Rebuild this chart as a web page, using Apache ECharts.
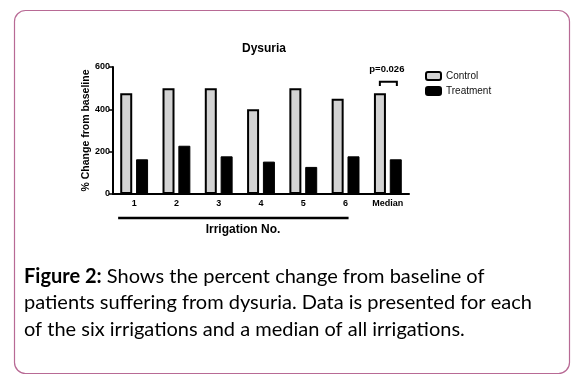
<!DOCTYPE html>
<html><head><meta charset="utf-8">
<script src="https://cdn.jsdelivr.net/npm/echarts@6/dist/echarts.min.js"></script>
<style>html,body{margin:0;padding:0;background:#fff}#c{width:580px;height:384px}</style>
</head><body><div id="c"></div>
<script>
const categories = ['1','2','3','4','5','6','Median'];
const controlValues = [476, 500, 500, 400, 500, 450, 476];
const treatmentValues = [164, 228, 178, 153, 128, 178, 164];
const yTicks = [0, 200, 400, 600];
const seriesNames = ['Control', 'Treatment'];
const pLabel = 'p=0.026';

const chart = echarts.init(document.getElementById('c'), null, {renderer: 'canvas'});
const FF = 'Liberation Sans, Arial';
chart.setOption({
  animation: false,
  backgroundColor: '#fff',
  title: {
    text: 'Dysuria', left: 259, top: 38, textAlign: 'center',
    textStyle: {fontFamily: FF, fontWeight: 'bold', fontSize: 12, color: '#000'}
  },
  legend: {
    orient: 'vertical', left: 420, top: 66, itemWidth: 15, itemHeight: 8, itemGap: 5,
    data: seriesNames,
    textStyle: {fontFamily: FF, fontSize: 10, color: '#111'}
  },
  grid: {left: 113, top: 67, width: 296, height: 127},
  xAxis: {
    type: 'category', data: categories,
    axisLine: {lineStyle: {color: '#000', width: 2}},
    axisTick: {alignWithLabel: true, length: 3, lineStyle: {color: '#000', width: 1.5}},
    axisLabel: {margin: 5, fontFamily: FF, fontWeight: 'bold', fontSize: 9, color: '#000'}
  },
  yAxis: {
    type: 'value', min: yTicks[0], max: yTicks[yTicks.length-1], interval: 200,
    name: '% Change from baseline', nameLocation: 'middle', nameGap: 21, nameMoveOverlap: false,
    nameTextStyle: {fontFamily: FF, fontWeight: 'bold', fontSize: 10.5, color: '#000'},
    axisLine: {show: true, lineStyle: {color: '#000', width: 2}},
    axisTick: {show: true, length: 4, lineStyle: {color: '#000', width: 1.5}},
    axisLabel: {margin: 3, fontFamily: FF, fontWeight: 'bold', fontSize: 9, color: '#000'},
    splitLine: {show: false}
  },
  series: [
    {name: seriesNames[0], type: 'bar', data: controlValues, barWidth: 12, barGap: '32%',
     itemStyle: {color: '#d3d3d3', borderColor: '#000', borderWidth: 2}},
    {name: seriesNames[1], type: 'bar', data: treatmentValues, barWidth: 12,
     itemStyle: {color: '#000', borderColor: '#000', borderWidth: 1}}
  ]
});

const mid = chart.convertToPixel({xAxisIndex: 0, yAxisIndex: 0}, [categories.length - 1, 530]);
const legY = chart.convertToPixel({yAxisIndex: 0}, 510);
const baseLeft = chart.convertToPixel({xAxisIndex: 0}, 0);
const baseRight = chart.convertToPixel({xAxisIndex: 0}, 5);
chart.setOption({
  graphic: [
    {type: 'rect', shape: {x: 14.5, y: 10.5, width: 555, height: 363, r: 11},
     style: {fill: 'none', stroke: '#b86a95', lineWidth: 1.2}, silent: true},
    {type: 'polyline', shape: {points: [[mid[0]-8, legY], [mid[0]-8, mid[1]], [mid[0]+9, mid[1]], [mid[0]+9, legY]]},
     style: {stroke: '#000', lineWidth: 2, fill: 'none'}},
    {type: 'text', x: mid[0] - 1, y: mid[1] - 17,
     style: {text: pLabel, fontFamily: FF, fontWeight: 'bold', fontSize: 9.5, fill: '#000', textAlign: 'center'}},
    {type: 'line', shape: {x1: baseLeft - 16, y1: 218, x2: baseRight + 3, y2: 218},
     style: {stroke: '#000', lineWidth: 2.5}},
    {type: 'text', x: 243, y: 224,
     style: {text: 'Irrigation No.', fontFamily: FF, fontWeight: 'bold', fontSize: 12, fill: '#000', textAlign: 'center'}},
    {type: 'text', x: 24, y: 263,
     style: {
       text: '{b|Figure 2:} Shows the percent change from baseline of\npatients suffering from dysuria. Data is presented for each\nof the six irrigations and a median of all irrigations.',
       fontFamily: 'Lato', fontSize: 20, lineHeight: 26.5, fill: '#000',
       rich: {b: {fontFamily: 'Lato', fontWeight: 'bold', fontSize: 20, fill: '#000'}}
     }}
  ]
});
</script></body></html>
